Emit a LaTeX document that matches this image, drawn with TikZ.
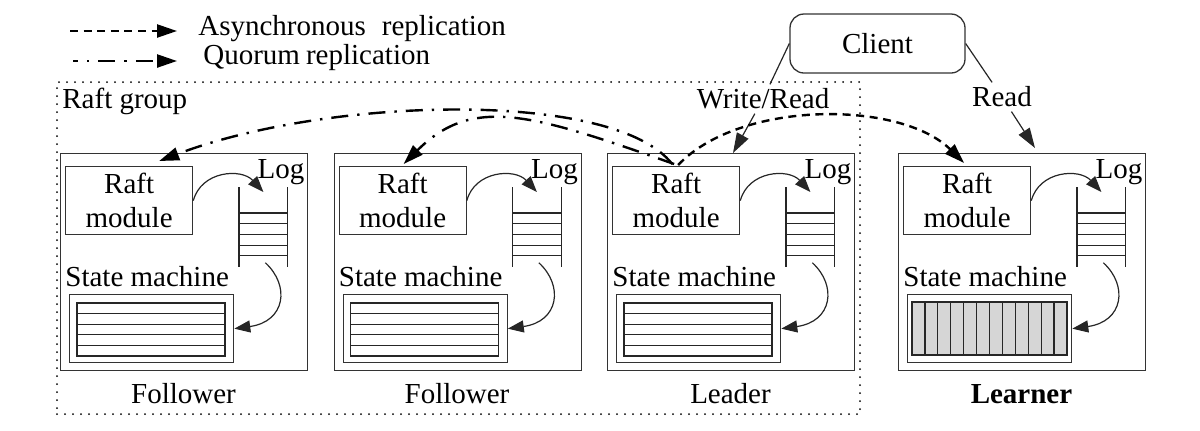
\documentclass[tikz,border=0pt]{standalone}
\usepackage{fontspec}
\setmainfont{Liberation Serif}
\usetikzlibrary{arrows.meta}
\tikzset{
  txt/.style={inner sep=0pt, font=\fontsize{14.5}{17}\selectfont},
  frame/.style={draw=black!80, line width=0.65pt, inner sep=0pt, anchor=north west},
  thinl/.style={draw=black!85, line width=0.6pt},
  bigtip/.style={-{Triangle[length=10pt,width=6.5pt]}},
  smalltip/.style={-{Triangle[length=8pt,width=6pt]}},
  async/.style={bigtip, line width=1.2pt, dash pattern=on 4pt off 2.8pt},
  quorum/.style={bigtip, line width=1.2pt, dash pattern=on 8.5pt off 4.5pt on 1.2pt off 4.5pt},
  flow/.style={thinl, smalltip},
  clientline/.style={draw=black!85, line width=0.6pt},
  group/.style={draw, line width=1pt, line cap=round, dash pattern=on 0pt off 4pt, inner sep=0pt, anchor=north west},
}
\newcommand\rowstore{%
  \draw[thinl] (17,303) rectangle (165,356);
  \foreach \yy in {313.6,324.2,334.8,345.4} \draw[thinl] (17,\yy) -- (165,\yy);}
\newcommand\colstore{%
  \draw[thinl, fill=gray!32] (14,302) rectangle (169,355);
  \foreach \kk in {1,...,11} \draw[thinl] ({14+\kk*155/12},302) -- ({14+\kk*155/12},355);}
\newcommand\srvunit[4]{%
\begin{scope}[shift={(#1,0)}]
  \node[frame, minimum width=123.5pt, minimum height=108.5pt] (#2) at (0,153) {};
  \node[frame, txt, align=center, minimum width=63.5pt, minimum height=34pt] (#2m) at (5,166) {Raft\\module};
  \node[txt, anchor=base] (#2g) at (221,178) {Log};
  \node[inner sep=0pt, minimum width=24pt, minimum height=39.5pt, anchor=north west] (#2l) at (179,187) {};
  \draw[thinl] (#2l.north west) -- (#2l.south west) (#2l.north east) -- (#2l.south east);
  \foreach \yy in {213,223.7,234.4,245.1,255.8} \draw[thinl] (179,\yy) -- (227,\yy);
  \node[txt, anchor=base west] (#2t) at (5,286) {State machine};
  \node[frame, minimum width=82pt, minimum height=34pt] (#2s) at (9,294) {};
  #4
  \draw[flow] (#2m.east) .. controls +(8,-30) and +(-22,-24) .. ([yshift=-2.5pt]#2l.north);
  \draw[flow] ([xshift=1pt,yshift=2pt]#2l.south) .. controls +(25,23) and +(51,-7) .. (#2s.east);
  \node[txt, anchor=base] (#2n) at (123.5,403) {#3};
\end{scope}}
\begin{document}
\begin{tikzpicture}[x=0.5pt, y=-0.5pt]
\useasboundingbox (0,0) rectangle (1200,430);
% legend
\coordinate (la1) at (70,31); \coordinate (la2) at (177,31);
\coordinate (lq1) at (73,61); \coordinate (lq2) at (177,61);
\draw[async] (la1) -- (la2);
\draw[quorum, dash phase=6pt] (lq1) -- (lq2);
\node[txt, anchor=base west] (lta) at (198,35) {Asynchronous\hspace{8pt}replication};
\node[txt, anchor=base west] (ltq) at (203,64) {Quorum\hspace{3pt}replication};
% raft group
\node[group, minimum width=401.5pt, minimum height=166pt] (rg) at (56,81) {};
\node[txt, anchor=base west] (rgt) at (62,108) {Raft group};
% servers
\srvunit{60}{F1}{Follower}{\rowstore}
\srvunit{333.5}{F2}{Follower}{\rowstore}
\srvunit{607}{L}{Leader}{\rowstore}
\srvunit{898}{R}{\textbf{Learner}}{\colstore}
% client
\node[draw=black!80, line width=0.65pt, rounded corners=7pt, minimum width=87.5pt, minimum height=29.5pt, txt] (cl) at (877.5,43.5) {Client};
\node[txt, inner sep=2pt] (wr) at (763,99) {Write/Read};
\node[txt, inner sep=2pt] (rd) at (1002,97) {Read};
\draw[clientline] (cl.west) -- (wr);
\draw[clientline, bigtip] (wr) -- ([xshift=63pt]L.north west);
\draw[clientline] (cl.east) -- (rd);
\draw[clientline, bigtip] (rd) -- ([xshift=68.5pt, yshift=2.5pt]R.north west);
% replication arcs
\draw[quorum] ([xshift=-2pt,yshift=1pt]Lm.north) .. controls (615,90) and (330,96) .. ([xshift=15pt,yshift=2.5pt]F1m.north);
\draw[quorum] ([xshift=-1pt,yshift=1pt]Lm.north) .. controls (532,114) and (473,95) .. ([xshift=0.5pt,yshift=1pt]F2m.north);
\draw[async] ([xshift=1pt,yshift=0.5pt]Lm.north) .. controls (740,100) and (900,100) .. ([xshift=-1.5pt,yshift=1.5pt]Rm.north);
\end{tikzpicture}
\end{document}
